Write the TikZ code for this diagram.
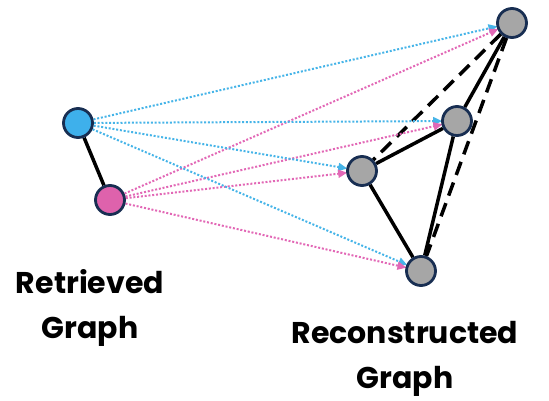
\documentclass[tikz,border=0pt]{standalone}
\usepackage{fontspec}
\setmainfont{Poppins}
\usepackage{tikz}
\usetikzlibrary{positioning}
\usetikzlibrary{arrows.meta}
\usetikzlibrary{backgrounds}
\definecolor{rim}{RGB}{24,46,82}
\definecolor{nodeblue}{RGB}{62,176,235}
\definecolor{nodepink}{RGB}{222,98,172}
\definecolor{nodegray}{RGB}{166,166,166}
\definecolor{lineblue}{RGB}{70,180,232}
\definecolor{linepink}{RGB}{226,104,182}

\tikzset{
    vertex/.style={draw=rim, circle, line width=2.8pt, minimum size=29pt, inner sep=0pt},
    edge/.style={line width=3.5pt, black},
    dashedge/.style={line width=3.5pt, black, dash pattern=on 14pt off 8pt},
    link/.style={line width=2pt, dash pattern=on 2pt off 1.8pt, -{Triangle[length=9pt,width=8pt]}, shorten >=-1pt},
    caption/.style={font=\bfseries\fontsize{30}{45}\selectfont, align=center}
}

\begin{document}
\begin{tikzpicture}[x=1pt, y=-1pt]

    \useasboundingbox (0,0) rectangle (549,401);

    % Retrieved Graph
    \node (ret1) [vertex, fill=nodeblue] at (78,123) {};
    \node (ret2) [vertex, fill=nodepink] at (110,200) {};

    % Reconstructed Graph
    \node (rec1) [vertex, fill=nodegray] at (512,23) {};
    \node (rec2) [vertex, fill=nodegray] at (457,121) {};
    \node (rec3) [vertex, fill=nodegray] at (362,171) {};
    \node (rec4) [vertex, fill=nodegray] at (421,271) {};

    % Titles
    \node[caption] at (90,308) {Retrieved\\Graph};
    \node[caption] at (405,359) {Reconstructed\\Graph};

    \begin{scope}[on background layer]
    % Edges
    \draw[edge] (ret1) -- (ret2);
    \draw[edge] (rec1) -- (rec2);
    \draw[edge] (rec2) -- (rec3);
    \draw[edge] (rec3) -- (rec4);
    \draw[edge] (rec2) -- (rec4);
    \draw[dashedge] (rec1) -- (rec3);
    \draw[dashedge] (rec1) -- (rec4);

    % Arrows
    \foreach \t in {rec1,rec2,rec3,rec4} {
        \draw[link, lineblue] (ret1) -- (\t);
        \draw[link, linepink] (ret2) -- (\t);
    }
    \end{scope}

\end{tikzpicture}
\end{document}
